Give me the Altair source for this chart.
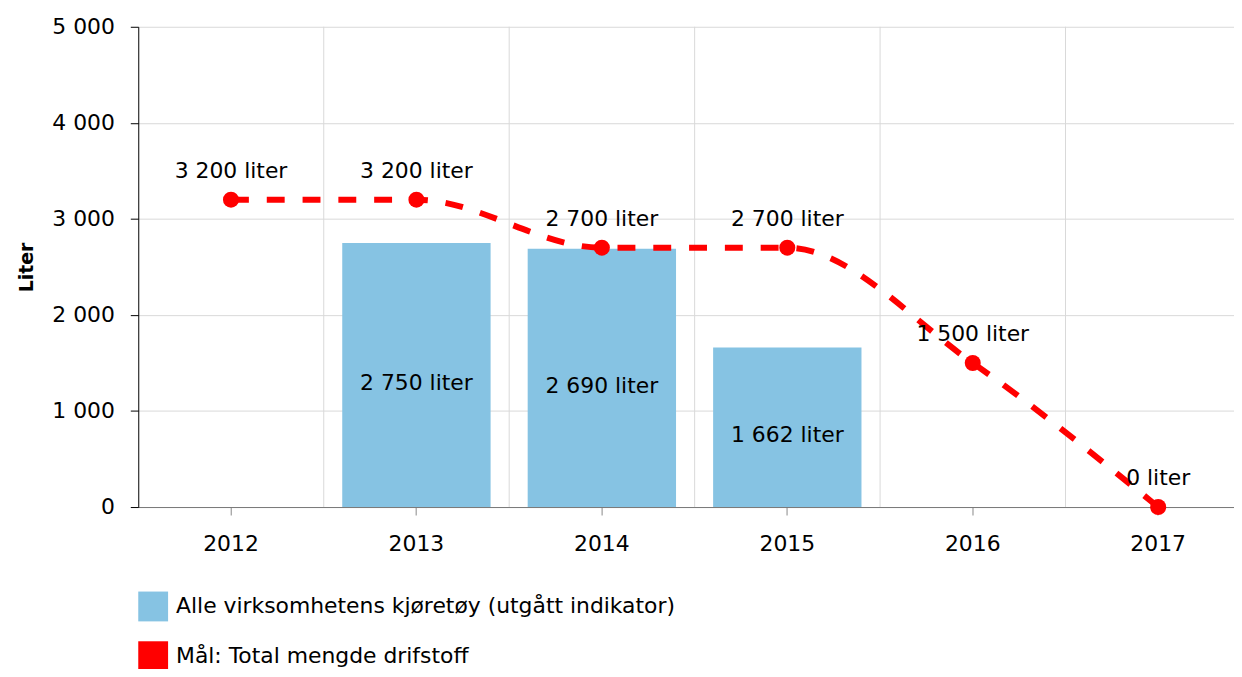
import altair as alt
import pandas as pd

years = ["2012", "2013", "2014", "2015", "2016", "2017"]
bar_years = ["2013", "2014", "2015"]
bar_values = [2750, 2690, 1662]
goal_values = [3200, 3200, 2700, 2700, 1500, 0]
grid_years = ["2013", "2014", "2015", "2016", "2017"]
bar_name = "Alle virksomhetens kjøretøy (utgått indikator)"
line_name = "Mål: Total mengde drifstoff"
y_ticks = [0, 1000, 2000, 3000, 4000, 5000]

BLUE = "#86c3e3"
RED = "#ff0000"
FONT = "DejaVu Sans"
FS = 22


def lab(v):
    return f"{v:,}".replace(",", " ") + " liter"


bars = pd.DataFrame({"year": bar_years, "value": bar_values,
                     "series": [bar_name] * len(bar_years),
                     "label": [lab(v) for v in bar_values]})
bars["half"] = bars["value"] / 2
goal = pd.DataFrame({"year": years, "value": goal_values,
                     "label": [lab(v) for v in goal_values]})
grid = pd.DataFrame({"year": grid_years})

xscale = alt.Scale(domain=years, paddingInner=0.2, paddingOuter=0.1)
yscale = alt.Scale(domain=[0, 5000], nice=False)

x_axis = alt.Axis(title=None, grid=False, labelAngle=0, labelFontSize=FS,
                  labelFont=FONT, labelColor="#000", labelPadding=19,
                  tickSize=8, tickColor="#888", domainColor="#777")
y_axis = alt.Axis(title="Liter", values=y_ticks, grid=True, gridColor="#d9d9d9",
                  labelExpr="replace(format(datum.value, ','), ',', ' ')",
                  labelFontSize=FS, labelFont=FONT, labelColor="#000",
                  labelPadding=16, tickSize=8, tickColor="#000",
                  domainColor="#000", titleFont=FONT, titleFontSize=19,
                  titleFontWeight="bold", titleColor="#000", titlePadding=15)

gridlayer = alt.Chart(grid).mark_rule(color="#d9d9d9", strokeWidth=1, xOffset=-18.6).encode(
    x=alt.X("year:N", scale=xscale, bandPosition=0, axis=x_axis)
)

bar_layer = alt.Chart(bars).mark_bar(color=BLUE).encode(
    x=alt.X("year:N", scale=xscale, axis=x_axis),
    y=alt.Y("value:Q", scale=yscale, axis=y_axis),
    color=alt.Color("series:N",
                    scale=alt.Scale(domain=[bar_name, line_name], range=[BLUE, RED]),
                    legend=alt.Legend(title=None, orient="none", legendX=0, legendY=568,
                                      symbolType="square", symbolSize=900,
                                      symbolStrokeWidth=0, labelFontSize=FS,
                                      labelFont=FONT, labelColor="#000", labelLimit=0,
                                      labelOffset=8, rowPadding=20, direction="vertical")),
)

bar_text = alt.Chart(bars).mark_text(fontSize=FS, font=FONT, color="#000",
                                     baseline="middle", dy=8).encode(
    x=alt.X("year:N", scale=xscale),
    y=alt.Y("half:Q", scale=yscale),
    text="label:N",
)

line = alt.Chart(goal).mark_line(color=RED, strokeWidth=6, strokeDash=[18, 18],
                                 interpolate="monotone").encode(
    x=alt.X("year:N", scale=xscale),
    y=alt.Y("value:Q", scale=yscale),
)

pts = alt.Chart(goal).mark_circle(color=RED, size=260, opacity=1).encode(
    x=alt.X("year:N", scale=xscale),
    y=alt.Y("value:Q", scale=yscale),
)

pt_text = alt.Chart(goal).mark_text(fontSize=FS, font=FONT, color="#000",
                                    baseline="middle", dy=-29).encode(
    x=alt.X("year:N", scale=xscale),
    y=alt.Y("value:Q", scale=yscale),
    text="label:N",
)

chart = alt.layer(gridlayer, bar_layer, bar_text, line, pts, pt_text).properties(
    width=1119, height=483,
    autosize=alt.AutoSizeParams(type="none"),
    padding={"left": 131, "top": 17, "right": -17, "bottom": 161},
).configure_view(stroke=None)

chart.save("out.html", embed_options={"renderer": "svg", "actions": False})
